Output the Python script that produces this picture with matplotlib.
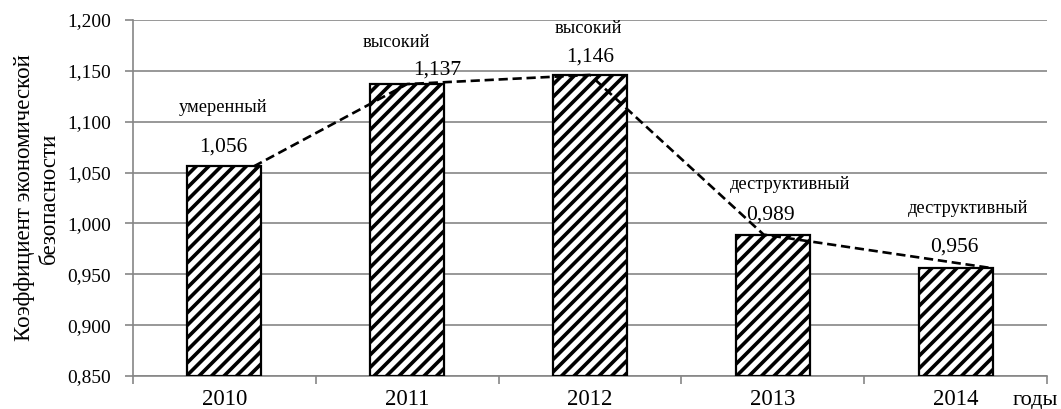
import matplotlib
matplotlib.use("Agg")
import matplotlib.pyplot as plt
import numpy as np

# ---- data ----
years = ["2010", "2011", "2012", "2013", "2014"]
values = [1.056, 1.137, 1.146, 0.989, 0.956]
value_labels = ["1,056", "1,137", "1,146", "0,989", "0,956"]
levels = ["умеренный", "высокий", "высокий", "деструктивный", "деструктивный"]
y_ticks = [0.85, 0.90, 0.95, 1.00, 1.05, 1.10, 1.15, 1.20]
y_tick_labels = ["0,850", "0,900", "0,950", "1,000", "1,050", "1,100", "1,150", "1,200"]
y_title = "Коэффициент экономической\nбезопасности"
x_title = "годы"

# ---- positions (layout only) ----
line_x_offsets = [0.16, 0.0, 0.0, -0.05, 0.2]
value_pos = [(-0.008, 1.0702), (1.163, 1.1459), (2.0, 1.1587), (2.985, 1.0034), (3.991, 0.9719)]
level_pos = [(-0.008, 1.1095), (0.939, 1.1735), (1.989, 1.1872), (3.094, 1.0338), (4.068, 1.0102)]

W, H, DPI = 1061, 409, 150
K = 100 / DPI  # sizes below are tuned as if at 100 dpi


def sz(v):
    return v * K


plt.rcParams['font.family'] = ['Liberation Serif', 'DejaVu Serif']
plt.rcParams['hatch.linewidth'] = sz(2.6)
plt.rcParams['hatch.color'] = 'black'

fig = plt.figure(figsize=(W / DPI, H / DPI), dpi=DPI)
ax = fig.add_axes([133 / W, 1 - 376 / H, (1047 - 133) / W, (376 - 20) / H])

grey = '#868686'
x = np.arange(len(years))
ax.bar(x, [v - 0.85 for v in values], bottom=0.85, width=0.405, color='white',
       edgecolor='black', linewidth=sz(1.6), hatch='////', zorder=3)

lx = [xi + o for xi, o in zip(x, line_x_offsets)]
ax.plot(lx, values, color='black', linestyle=(0, (3.5, 1.8)), linewidth=sz(1.9), zorder=4)

for (px, py), t in zip(value_pos, value_labels):
    ax.text(px, py, t, ha='center', va='baseline', fontsize=sz(15.5), zorder=5)
for (px, py), t in zip(level_pos, levels):
    ax.text(px, py, t, ha='center', va='baseline', fontsize=sz(13.2), zorder=5)

ax.set_xlim(-0.5, len(years) - 0.5)
ax.set_ylim(0.85, 1.2)
ax.set_yticks(y_ticks)
ax.set_yticklabels(y_tick_labels, fontsize=sz(14))
ax.set_xticks(x)
ax.set_xticklabels(years, fontsize=sz(16.5))
ax.set_xticks(np.arange(-0.5, len(years)), minor=True)
ax.tick_params(axis='x', which='major', length=0, pad=sz(9.5))
ax.tick_params(axis='x', which='minor', length=sz(6), color=grey, width=sz(1.2), direction='out')
ax.tick_params(axis='y', which='major', length=sz(6), color=grey, width=sz(1.2), pad=sz(10))

ax.yaxis.grid(True, color=grey, linewidth=sz(1.2), zorder=0)
ax.set_axisbelow(True)
for s in ['top', 'right']:
    ax.spines[s].set_visible(False)
for s in ['left', 'bottom']:
    ax.spines[s].set_color(grey)
    ax.spines[s].set_linewidth(sz(1.2))

ax.set_ylabel(y_title, fontsize=sz(16.5), labelpad=sz(5), linespacing=1.25)
fig.text(1058 / W, 1 - 405 / H, x_title, fontsize=sz(16), ha='right', va='baseline')

fig.savefig("out.png", dpi=DPI)
